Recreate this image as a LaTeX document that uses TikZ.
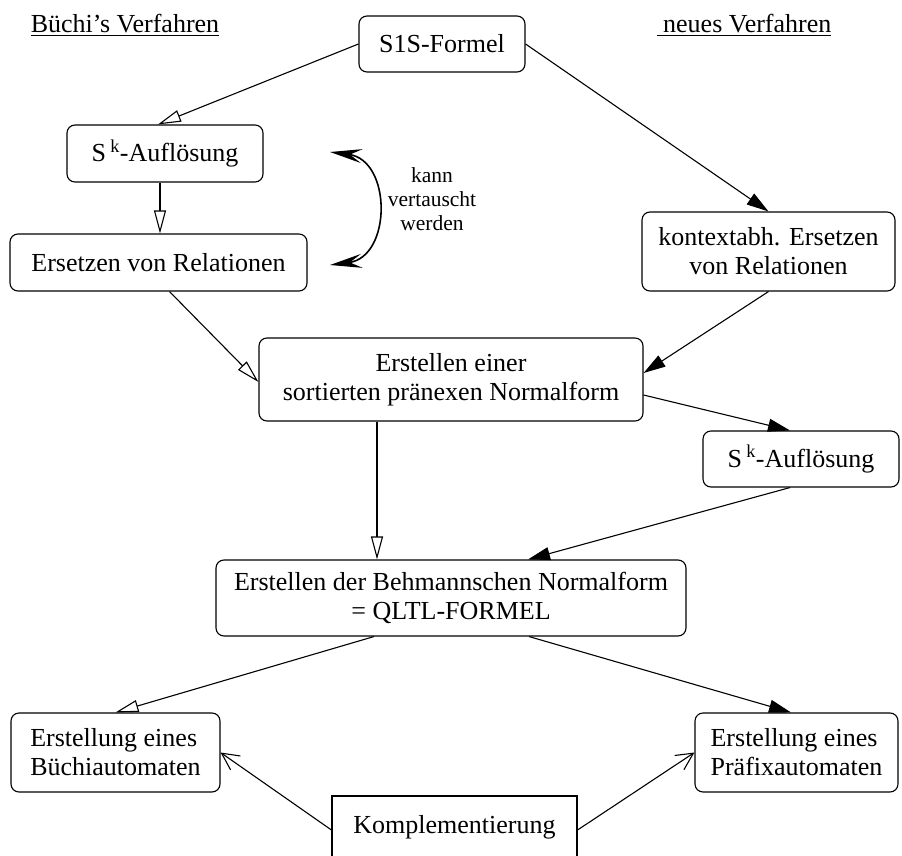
\documentclass[tikz,border=0pt]{standalone}
\usepackage{fontspec}
\setmainfont{Liberation Serif}
\usetikzlibrary{arrows.meta}

\tikzset{
  box/.style={draw, line width=1.1pt, rounded corners=8pt, inner sep=0pt,
    align=center, font=\fontsize{26}{29}\selectfont},
  plainbox/.style={draw, line width=1.1pt, inner sep=0pt,
    align=center, font=\fontsize{26}{29}\selectfont},
  title/.style={inner sep=0pt, anchor=base, font=\fontsize{26}{29}\selectfont},
  conn/.style={line width=1.1pt},
  openhead/.style={conn, -{Triangle[open, length=23pt, width=12pt, line width=1.1pt]}},
  solidhead/.style={conn, -{Triangle[length=22pt, width=13pt]}},
  barbhead/.style={conn, -{Straight Barb[length=17pt, width=17pt, line width=1.1pt]}},
  swaphead/.style={line width=1.6pt,
    {Stealth[length=32pt, width=14pt, inset=12pt]}-{Stealth[length=32pt, width=14pt, inset=12pt]}},
}

\begin{document}
\begin{tikzpicture}[x=1pt, y=-1pt]
  \useasboundingbox (0,0) rectangle (902,856);
  \clip (0,0) rectangle (902,856);

  % column headings
  \node[title] (hl) at (125,33) {\underline{Büchi’s Verfahren}};
  \node[title] (hr) at (744,33) {\underline{\ neues Verfahren}};

  % steps
  \node[box, minimum width=166pt, minimum height=56pt] (s1s) at (442,44) {S1S-Formel};
  \node[box, minimum width=196pt, minimum height=57pt] (skl) at (165,153.5) {S\,\textsuperscript{k}-Auflösung};
  \node[box, minimum width=297pt, minimum height=57pt] (ers) at (158.5,262.5) {Ersetzen von Relationen};
  \node[box, minimum width=253pt, minimum height=79pt] (kon) at (768.5,251.5) {kontextabh. Ersetzen\\ von Relationen};
  \node[box, minimum width=384pt, minimum height=83pt] (sort) at (451,379.5) {Erstellen einer\\ sortierten pränexen Normalform};
  \node[box, minimum width=196pt, minimum height=56pt] (skr) at (801,459) {S\,\textsuperscript{k}-Auflösung};
  \node[box, minimum width=470pt, minimum height=76pt] (beh) at (451,598) {Erstellen der Behmannschen Normalform\\ = QLTL-FORMEL};
  \node[box, align=left, minimum width=209pt, minimum height=79pt] (bue) at (115.5,752.5) {Erstellung eines\\ Büchiautomaten};
  \node[box, align=left, minimum width=203pt, minimum height=79pt] (pra) at (796.5,752.5) {Erstellung eines\\ Präfixautomaten};
  \node[plainbox, minimum width=245pt, minimum height=62pt] (komp) at (454.5,827) {Komplementierung};

  % interchangeable steps
  \node[align=center, inner sep=0pt, font=\fontsize{21.5}{24}\selectfont] (swap) at (432,199) {kann\\ vertauscht\\ werden};
  \coordinate (swtop) at (330,152);
  \coordinate (swbot) at (330,265);
  \draw[swaphead] (swtop) .. controls (392,160) and (392,257) .. (swbot);

  % left branch
  \draw[openhead] (s1s.west) -- ([xshift=-7pt]skl.north);
  \draw[openhead] ([xshift=-5pt]skl.south) -- ([xshift=-5pt]skl.south |- ers.north);
  \draw[openhead] ([xshift=11pt]ers.south) -- ([yshift=-2.5pt]sort.west);
  \draw[openhead] ([xshift=-74pt]sort.south) -- ([xshift=-74pt]sort.south |- beh.north);
  \draw[openhead] ([xshift=-77pt]beh.south) -- (bue.north);

  % right branch
  \draw[solidhead] (s1s.east) -- (kon.north);
  \draw[solidhead] (kon.south) -- ([yshift=6.5pt]sort.east);
  \draw[solidhead] ([yshift=-15.5pt]sort.east) -- ([xshift=-11pt]skr.north);
  \draw[solidhead] ([xshift=-11pt]skr.south) -- ([xshift=77pt]beh.north);
  \draw[solidhead] ([xshift=78pt]beh.south) -- ([xshift=-5.5pt]pra.north);

  % complementation
  \draw[barbhead] ([yshift=-3pt]komp.west) -- (bue.east);
  \draw[barbhead] ([yshift=-3pt]komp.east) -- (pra.west);
\end{tikzpicture}
\end{document}
